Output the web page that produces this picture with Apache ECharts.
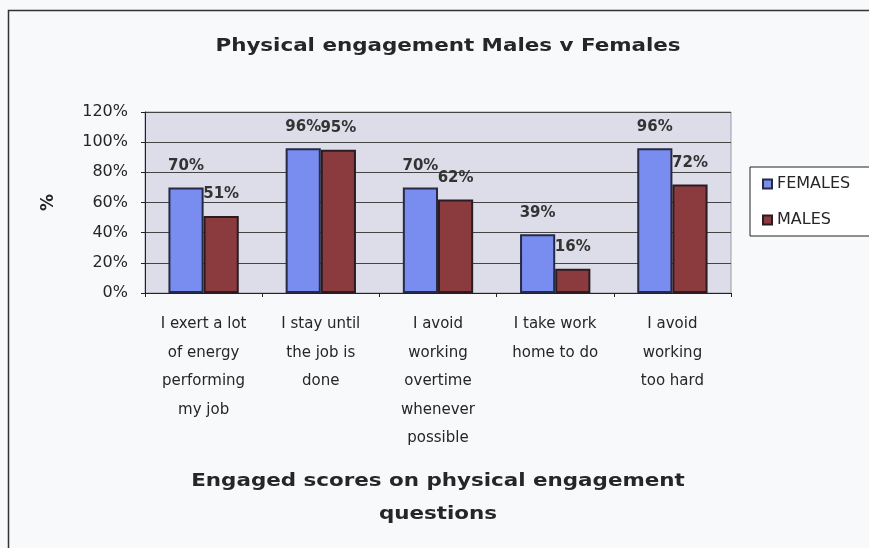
<!DOCTYPE html>
<html>
<head>
<meta charset="utf-8">
<script src="https://cdn.jsdelivr.net/npm/echarts@6/dist/echarts.min.js"></script>
<style>
  html, body { margin: 0; padding: 0; background: #f8f9fb; }
  #chart { width: 869px; height: 548px; }
</style>
</head>
<body>
<div id="chart"></div>
<script>
// Question wording, wrapped as it appears under each pair of bars
const categories = [
  'I exert a lot\nof energy\nperforming\nmy job',
  'I stay until\nthe job is\ndone',
  'I avoid\nworking\novertime\nwhenever\npossible',
  'I take work\nhome to do',
  'I avoid\nworking\ntoo hard'
];
// Engaged scores (%) by gender
const females = [70, 96, 70, 39, 96];
const males = [51, 95, 62, 16, 72];
// Value axis ticks
const yTicks = [0, 20, 40, 60, 80, 100, 120];

const FONT = 'DejaVu Sans';
const TEXT = '#262626';
const WIDE = 1.19; // horizontal stretch used for the two headings

const chart = echarts.init(document.getElementById('chart'), null, { renderer: 'canvas' });

const labelStyle = {
  show: true,
  position: 'top',
  distance: 14,
  formatter: p => p.value + '%',
  fontFamily: FONT,
  fontWeight: 'bold',
  fontSize: 15,
  color: '#333'
};

chart.setOption({
  backgroundColor: '#f8f9fb',
  animation: false,
  graphic: [
    {
      type: 'rect',
      shape: { x: 8.5, y: 10.5, width: 880, height: 560 },
      style: { fill: null, stroke: '#333', lineWidth: 1.5 },
      silent: true,
      z: -1
    },
    {
      type: 'text',
      x: 448,
      y: 46,
      scaleX: WIDE,
      style: {
        text: 'Physical engagement Males v Females',
        textAlign: 'center',
        textVerticalAlign: 'middle',
        fontFamily: FONT,
        fontWeight: 'bold',
        fontSize: 18,
        fill: TEXT
      }
    },
    {
      type: 'text',
      x: 438,
      y: 465,
      scaleX: WIDE,
      style: {
        text: 'Engaged scores on physical engagement\nquestions',
        textAlign: 'center',
        textVerticalAlign: 'top',
        fontFamily: FONT,
        fontWeight: 'bold',
        fontSize: 18,
        lineHeight: 33,
        fill: TEXT
      }
    }
  ],
  legend: {
    orient: 'vertical',
    left: 750,
    top: 167,
    width: 140,
    padding: [9, 40, 8, 12],
    itemGap: 20,
    itemWidth: 9,
    itemHeight: 9,
    icon: 'rect',
    backgroundColor: '#ffffff',
    borderColor: '#222',
    borderWidth: 1,
    textStyle: { fontFamily: FONT, fontSize: 16, color: TEXT },
    data: ['FEMALES', 'MALES']
  },
  grid: {
    left: 145,
    right: 138,
    top: 112,
    bottom: 255,
    show: true,
    backgroundColor: '#dcdde8',
    borderColor: '#9a9aa4',
    borderWidth: 1
  },
  xAxis: {
    type: 'category',
    data: categories,
    axisLine: { lineStyle: { color: '#222', width: 1 } },
    axisTick: { show: true, length: 4, lineStyle: { color: '#222' } },
    axisLabel: {
      interval: 0,
      margin: 17,
      fontFamily: FONT,
      fontSize: 15,
      lineHeight: 28.5,
      color: TEXT,
      align: 'center'
    }
  },
  yAxis: {
    type: 'value',
    min: yTicks[0],
    max: yTicks[yTicks.length - 1],
    interval: yTicks[1] - yTicks[0],
    name: '%',
    nameLocation: 'middle',
    nameGap: 88,
    nameRotate: 90,
    nameTextStyle: { fontFamily: FONT, fontSize: 17, fontWeight: 'bold', color: TEXT },
    axisLine: { show: true, lineStyle: { color: '#222', width: 1 } },
    axisTick: { show: true, length: 4, inside: false, lineStyle: { color: '#222' } },
    axisLabel: {
      margin: 17,
      formatter: v => v + '%',
      fontFamily: FONT,
      fontSize: 16,
      color: TEXT
    },
    splitLine: { show: true, lineStyle: { color: '#444', width: 1 } }
  },
  series: [
    {
      name: 'FEMALES',
      type: 'bar',
      data: females,
      barGap: '0%',
      barCategoryGap: '40%',
      itemStyle: { color: '#798cef', borderColor: '#262a44', borderWidth: 2 },
      label: labelStyle
    },
    {
      name: 'MALES',
      type: 'bar',
      data: males,
      itemStyle: { color: '#8b3b3d', borderColor: '#2a1c22', borderWidth: 2 },
      label: labelStyle
    }
  ]
});
</script>
</body>
</html>
